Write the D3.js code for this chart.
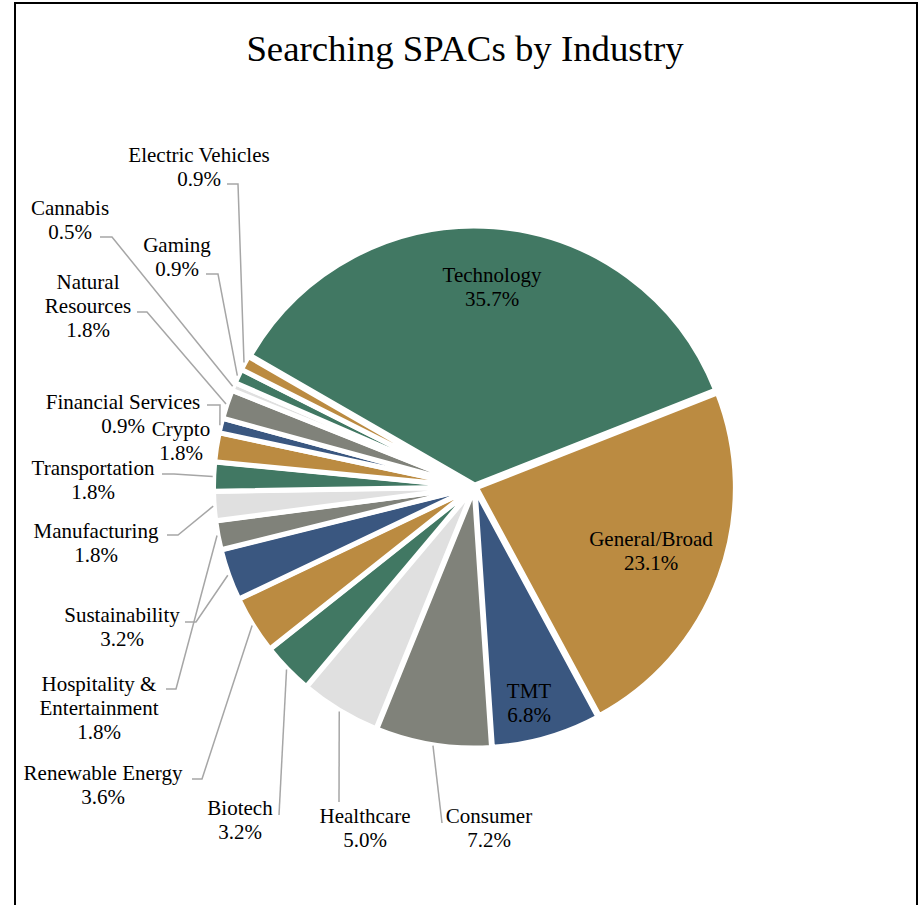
<!DOCTYPE html>
<html>
<head>
<meta charset="utf-8">
<script src="https://cdn.jsdelivr.net/npm/d3@7.9.0/dist/d3.min.js"></script>
<style>
  body { margin: 0; background: #fff; }
  svg { display: block; }
  text { font-family: "Liberation Serif", "Times New Roman", "DejaVu Serif", serif; fill: #000; }
</style>
</head>
<body>
<svg id="chart" width="922" height="905"></svg>
<script>
// Chart data
const industries = [
  'Technology', 'General/Broad', 'TMT', 'Consumer', 'Healthcare', 'Biotech',
  'Renewable Energy', 'Sustainability', 'Hospitality & Entertainment', 'Manufacturing',
  'Transportation', 'Crypto', 'Financial Services', 'Natural Resources', 'Cannabis',
  'Gaming', 'Electric Vehicles'
];
const shares = [35.7, 23.1, 6.8, 7.2, 5.0, 3.2, 3.6, 3.2, 1.8, 1.8, 1.8, 1.8, 0.9, 1.8, 0.5, 0.9, 0.9];
const palette = ['#417863', '#bb8b41', '#3a5780', '#80827a', '#e0e0e0'];

// Label placement (manually placed in the original), one per slice
const labelLayout = [
  { lines: ['Technology'], x: 492, y: 282, leader: null },
  { lines: ['General/Broad'], x: 651, y: 546, leader: null },
  { lines: ['TMT'], x: 529, y: 698, leader: null },
  { lines: ['Consumer'], x: 489, y: 823, leader: [[442, 823]] },
  { lines: ['Healthcare'], x: 365, y: 823, leader: [[339, 802]] },
  { lines: ['Biotech'], x: 240, y: 815, leader: [[279, 815]] },
  { lines: ['Renewable Energy'], x: 103, y: 780, leader: [[192, 779], [202, 779]] },
  { lines: ['Sustainability'], x: 122, y: 622, leader: [[185, 622], [196, 622]] },
  { lines: ['Hospitality &', 'Entertainment'], x: 99, y: 691, leader: [[166, 689], [176, 689]] },
  { lines: ['Manufacturing'], x: 96, y: 538, leader: [[167, 535], [178, 535]] },
  { lines: ['Transportation'], x: 93, y: 475, leader: [[162, 474], [174, 474]] },
  { lines: ['Crypto'], x: 181, y: 436, leader: null },
  { lines: ['Financial Services'], x: 123, y: 409, leader: [[207, 405], [220, 405]] },
  { lines: ['Natural', 'Resources'], x: 88, y: 289, leader: [[137, 312], [147, 312]] },
  { lines: ['Cannabis'], x: 70, y: 215, leader: [[100, 237], [112, 237]] },
  { lines: ['Gaming'], x: 177, y: 252, leader: [[206, 274], [218, 274]] },
  { lines: ['Electric Vehicles'], x: 199, y: 162, leader: [[227, 184], [238, 184]] }
];

const width = 922, height = 905;
const cx = 474.5, cy = 487;
const radius = 259;
const explode = 2;
const leaderRadius = 262;
const lineHeight = 24;

const svg = d3.select('#chart');

// Chart frame
svg.append('rect')
  .attr('x', 15).attr('y', 3)
  .attr('width', 902).attr('height', height + 10)
  .attr('fill', 'none')
  .attr('stroke', '#000')
  .attr('stroke-width', 2);

// Title
svg.append('text')
  .attr('x', 465).attr('y', 61)
  .attr('text-anchor', 'middle')
  .attr('font-size', '36.8px')
  .text('Searching SPACs by Industry');

// Pie setup, first slice starts at 300 degrees
const startAngle = -Math.PI / 3;
const pie = d3.pie().sort(null).value((d) => d)
  .startAngle(startAngle).endAngle(startAngle + 2 * Math.PI);
const arcData = pie(shares);
const arcGen = d3.arc().innerRadius(0).outerRadius(radius);

const g = svg.append('g').attr('transform', `translate(${cx},${cy})`);

g.selectAll('path')
  .data(arcData)
  .enter()
  .append('path')
  .attr('d', arcGen)
  .attr('fill', (d, i) => palette[i % palette.length])
  .attr('stroke', '#fff')
  .attr('stroke-width', 5)
  .attr('stroke-linejoin', 'miter')
  .attr('transform', (d) => {
    let mid = (d.startAngle + d.endAngle) / 2;
    return `translate(${explode * Math.sin(mid)},${-explode * Math.cos(mid)})`;
  });

// Leader lines
const line = d3.line();
arcData.forEach((d, i) => {
  let lay = labelLayout[i];
  if (!lay.leader) return;
  let mid = (d.startAngle + d.endAngle) / 2;
  let end = [cx + leaderRadius * Math.sin(mid), cy - leaderRadius * Math.cos(mid)];
  svg.append('path')
    .attr('d', line([...lay.leader, end]))
    .attr('fill', 'none')
    .attr('stroke', '#a6a6a6')
    .attr('stroke-width', 1.5);
});

// Labels
const fmt = d3.format('.1f');
labelLayout.forEach((lay, i) => {
  let rows = [...lay.lines, fmt(shares[i]) + '%'];
  let t = svg.append('text')
    .attr('text-anchor', 'middle')
    .attr('font-size', '21px');
  rows.forEach((r, k) => {
    t.append('tspan')
      .attr('x', lay.x)
      .attr('y', lay.y + k * lineHeight)
      .text(r);
  });
});
</script>
</body>
</html>
